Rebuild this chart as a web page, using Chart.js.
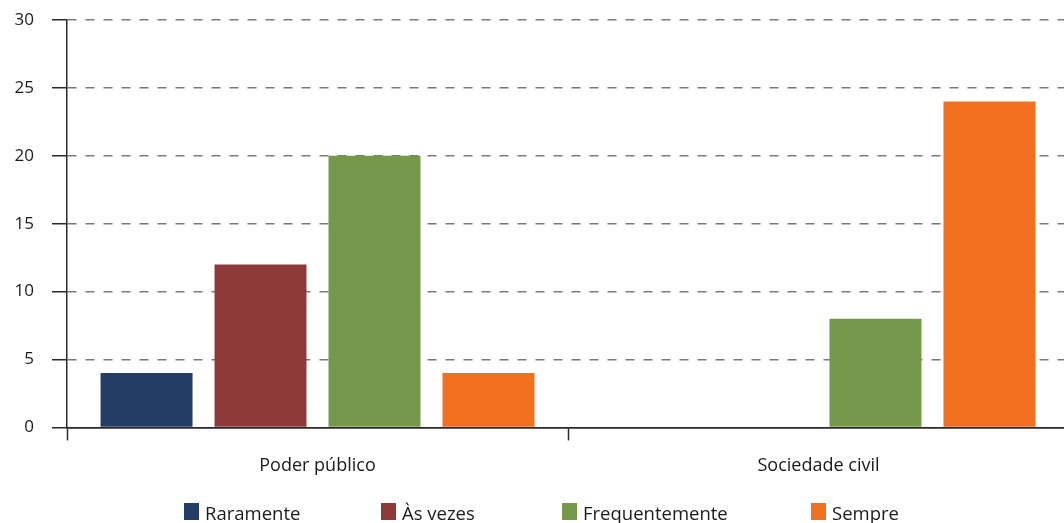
<!DOCTYPE html>
<html>
<head>
<meta charset="utf-8">
<script src="https://cdn.jsdelivr.net/npm/chart.js@4.4.0/dist/chart.umd.min.js"></script>
<style>
    html, body {
        margin: 0;
        padding: 0;
        background: #ffffff;
        overflow: hidden;
        width: 1064px;
        height: 523px;
    }
    .chart-wrap {
        position: absolute;
        left: 0;
        top: 0;
        width: 1072px;
        height: 523px;
    }
    .legend {
        position: absolute;
        left: 184px;
        top: 502px;
        display: flex;
        font-family: "Open Sans", "Noto Sans", sans-serif;
        font-size: 18.5px;
        line-height: 22px;
        color: #1a1a1a;
        white-space: nowrap;
    }
    .legend-item {
        display: flex;
        align-items: flex-start;
    }
    .legend-box {
        width: 15px;
        height: 17px;
        margin-right: 6px;
        margin-top: 1px;
    }
</style>
</head>
<body>
<div class="chart-wrap">
    <canvas id="barChart"></canvas>
</div>
<div class="legend" id="legend"></div>

<script>
// Categories and series
const categories = ['Poder público', 'Sociedade civil'];
const seriesNames = ['Raramente', 'Às vezes', 'Frequentemente', 'Sempre'];
const raramente = [4, 0];
const asVezes = [12, 0];
const frequentemente = [20, 8];
const sempre = [4, 24];
const yTicks = [0, 5, 10, 15, 20, 25, 30];

const seriesColors = ['#233d66', '#8e3a3a', '#76984b', '#f37021'];
const legendWidths = [197, 181, 249, 0];

const FONT = '"Open Sans", "Noto Sans", sans-serif';
const AXIS_DARK = '#2b2b2b';

function buildDatasets() {
    const values = [raramente, asVezes, frequentemente, sempre];
    return seriesNames.map(function(name, i) {
        return {
            label: name,
            data: values[i],
            backgroundColor: seriesColors[i],
            borderWidth: 0,
            categoryPercentage: 0.91,
            barPercentage: 0.807
        };
    });
}

function buildLegend() {
    const legend = document.getElementById('legend');
    seriesNames.forEach(function(name, i) {
        const item = document.createElement('div');
        item.className = 'legend-item';
        if (legendWidths[i]) {
            item.style.width = legendWidths[i] + 'px';
        }
        const box = document.createElement('span');
        box.className = 'legend-box';
        box.style.background = seriesColors[i];
        const text = document.createElement('span');
        text.textContent = name;
        item.appendChild(box);
        item.appendChild(text);
        legend.appendChild(item);
    });
}

function initializeChart() {
    const ctx = document.getElementById('barChart').getContext('2d');
    return new Chart(ctx, {
        type: 'bar',
        data: {
            labels: categories,
            datasets: buildDatasets()
        },
        options: {
            responsive: true,
            maintainAspectRatio: false,
            animation: false,
            layout: {
                padding: { top: 20, right: 3, bottom: 31, left: 0 }
            },
            plugins: {
                legend: { display: false },
                tooltip: { enabled: false }
            },
            scales: {
                x: {
                    offset: true,
                    grid: {
                        offset: true,
                        drawOnChartArea: false,
                        drawTicks: true,
                        tickLength: 13,
                        tickColor: AXIS_DARK,
                        tickWidth: 1.5
                    },
                    border: {
                        display: true,
                        color: AXIS_DARK,
                        width: 1.5
                    },
                    ticks: {
                        color: '#1a1a1a',
                        padding: 15,
                        font: { family: FONT, size: 18 }
                    }
                },
                y: {
                    min: yTicks[0],
                    max: yTicks[yTicks.length - 1],
                    afterFit: function(scale) {
                        scale.width = 67;
                        scale.paddingTop = 0;
                    },
                    afterBuildTicks: function(scale) {
                        scale.ticks = yTicks.map(function(v) { return { value: v }; });
                    },
                    grid: {
                        color: function(context) {
                            return context.tick && context.tick.value === 0 ? AXIS_DARK : '#7a7a7a';
                        },
                        lineWidth: 1.5,
                        drawTicks: true,
                        tickLength: 15,
                        tickColor: AXIS_DARK,
                        tickWidth: 1.5
                    },
                    border: {
                        display: true,
                        color: AXIS_DARK,
                        width: 1.5,
                        dash: function(context) {
                            return context.tick && context.tick.value === 0 ? [] : [9, 9];
                        }
                    },
                    ticks: {
                        color: '#1a1a1a',
                        padding: 18,
                        font: { family: FONT, size: 17 }
                    }
                }
            }
        }
    });
}

buildLegend();
initializeChart();
</script>
</body>
</html>
